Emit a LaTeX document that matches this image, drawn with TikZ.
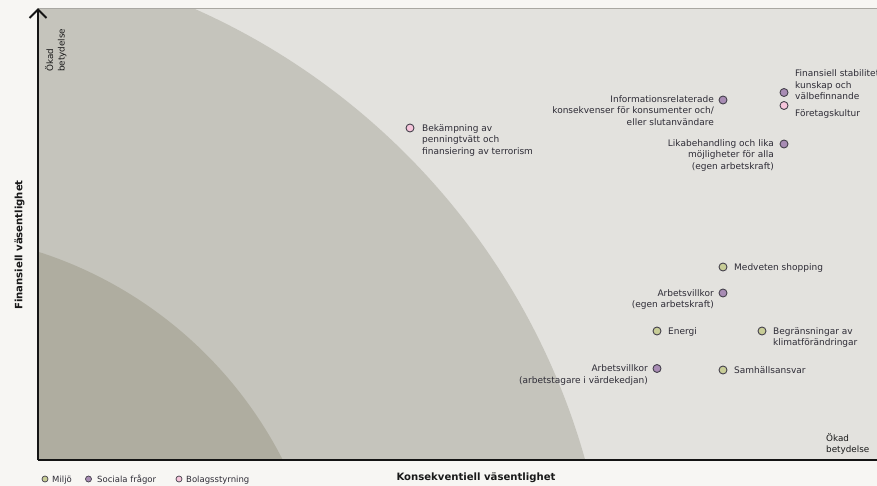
\documentclass[tikz,border=0pt]{standalone}
\usepackage{fontspec}
\setmainfont{DejaVu Sans}
\definecolor{pagebg}{HTML}{F7F6F3}
\definecolor{plotbg}{HTML}{E3E2DE}
\definecolor{midbg}{HTML}{C5C4BC}
\definecolor{darkbg}{HTML}{AFADA0}
\definecolor{frameline}{HTML}{A9A8A2}
\definecolor{gfill}{HTML}{C8CD97}
\definecolor{pfill}{HTML}{A88CB4}
\definecolor{kfill}{HTML}{F6C5DB}
\definecolor{ink}{HTML}{2E2C36}
\definecolor{dotline}{HTML}{45414C}
\begin{document}
\begin{tikzpicture}[x=1pt,y=-1pt,
  dot/.style={circle, draw=dotline, line width=0.9pt, minimum size=8pt, inner sep=0pt},
  gdot/.style={dot, fill=gfill},
  pdot/.style={dot, fill=pfill},
  kdot/.style={dot, fill=kfill},
  ldot/.style={circle, draw=dotline, line width=0.7pt, minimum size=6pt, inner sep=0pt},
  lab/.style={font=\fontsize{9}{11.6}\selectfont, text=ink, inner sep=0pt},
  labL/.style={lab, anchor=base west, align=left},
  labR/.style={lab, anchor=base east, align=right},
  legtext/.style={font=\fontsize{8.5}{10}\selectfont, text=ink, inner sep=0pt, anchor=base west},
  axtitle/.style={font=\bfseries\fontsize{10.1}{12}\selectfont, text=black!90, inner sep=0pt},
  small/.style={font=\fontsize{8.8}{11.5}\selectfont, text=black!90, inner sep=0pt, align=left, anchor=base west},
  axis/.style={line width=2pt, draw=black!92}
]
\useasboundingbox (0,0) rectangle (877,486);
\fill[pagebg] (0,0) rectangle (877,486);

% plot area and zones
\begin{scope}
  \clip (38,9) rectangle (877,460);
  \fill[plotbg] (38,9) rectangle (877,460);
  \fill[midbg] (-89,649) circle[radius=700pt];
  \fill[darkbg] (-89,649) circle[radius=417pt];
\end{scope}
\draw[frameline, line width=1pt] (38,9) -- (877,9);

% axes
\coordinate (origin) at (38,460);
\coordinate (ytop) at (38,9.6);
\coordinate (xend) at (880,460);
\coordinate (wl) at (29.5,18);
\coordinate (wr) at (46.5,18);
\draw[axis] (origin) -- (ytop);
\draw[axis] (origin) -- (xend);
\draw[axis, line join=miter] (wl) -- (ytop) -- (wr);

% axis texts (base anchor = baseline of the last line)
\node[small, rotate=90] (ykad) at (64.5,72) {Ökad\\betydelse};
\node[small] (xkad) at (826,452.5) {Ökad\\betydelse};
\node[axtitle, rotate=90] (ytitle) at (19.5,245) {Finansiell väsentlighet};
\node[axtitle] (xtitle) at (476,478) {Konsekventiell väsentlighet};

% data points
\node[kdot] (p1) at (410,128) {};
\node[labL] (t1) at (422,154.5) {Bekämpning av\\penningtvätt och\\finansiering av terrorism};

\node[pdot] (p2) at (723,100) {};
\node[labR] (t2) at (714,125.5) {Informationsrelaterade\\konsekvenser för konsumenter och/\\eller slutanvändare};

\node[pdot] (p3) at (784,92.5) {};
\node[labL] (t3) at (795,99.8) {Finansiell stabilitet,\\kunskap och\\välbefinnande};

\node[kdot] (p4) at (784,105.5) {};
\node[labL] (t4) at (795,117) {Företagskultur};

\node[pdot] (p5) at (784,144) {};
\node[labR] (t5) at (774,169.5) {Likabehandling och lika\\möjligheter för alla\\(egen arbetskraft)};

\node[gdot] (p6) at (723,267) {};
\node[labL] (t6) at (734,270.3) {Medveten shopping};

\node[pdot] (p7) at (723,293) {};
\node[labR] (t7) at (714,307.9) {Arbetsvillkor\\(egen arbetskraft)};

\node[gdot] (p8) at (657,331) {};
\node[labL] (t8) at (668,334.3) {Energi};

\node[gdot] (p9) at (762,331) {};
\node[labL] (t9) at (773,345.9) {Begränsningar av\\klimatförändringar};

\node[pdot] (p10) at (657,368.5) {};
\node[labR] (t10) at (648,383.1) {Arbetsvillkor\\(arbetstagare i värdekedjan)};

\node[gdot] (p11) at (723,370) {};
\node[labL] (t11) at (734,373.3) {Samhällsansvar};

% legend
\node[ldot, fill=gfill] (lg1) at (45,479) {};
\node[legtext] (lt1) at (52,482) {Miljö};
\node[ldot, fill=pfill] (lg2) at (88.5,479) {};
\node[legtext] (lt2) at (97,482) {Sociala frågor};
\node[ldot, fill=kfill] (lg3) at (179,479) {};
\node[legtext] (lt3) at (186,482) {Bolagsstyrning};
\end{tikzpicture}
\end{document}
